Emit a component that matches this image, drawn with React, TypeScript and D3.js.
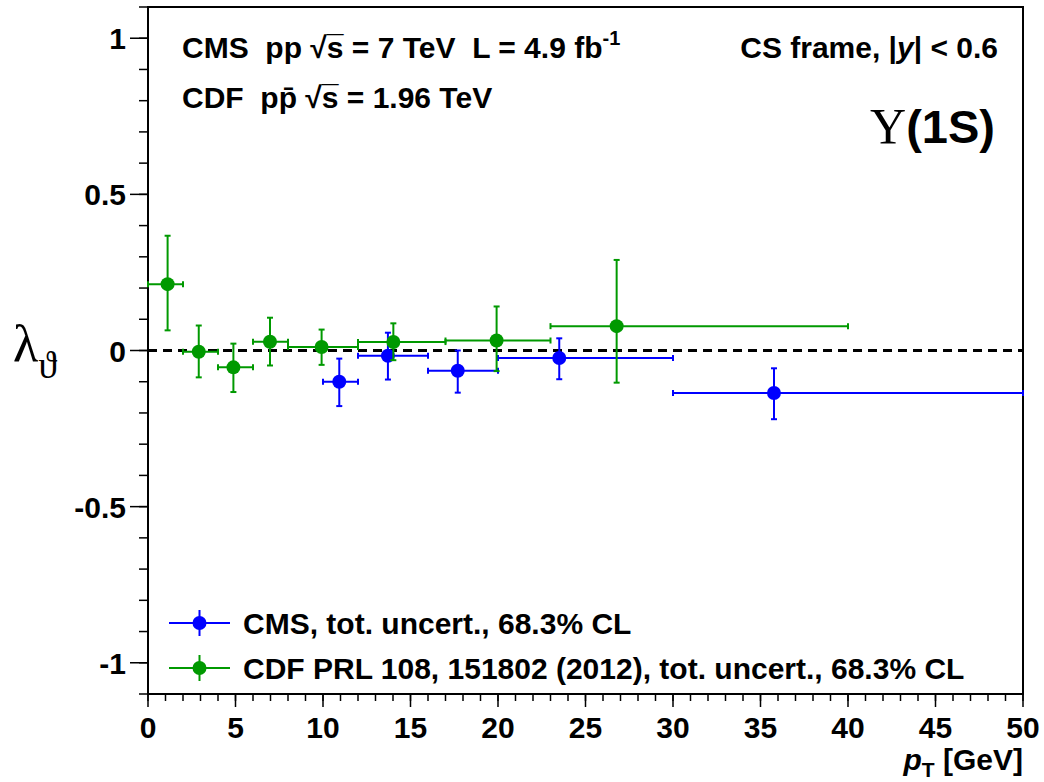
import React from 'react';
import * as d3 from 'd3';

// CMS Upsilon(1S) lambda_theta, CS frame
const cmsPt = [10.93, 13.71, 17.7, 23.5, 35.77];
const cmsPtLow = [10, 12, 16, 20, 30];
const cmsPtHigh = [12, 16, 20, 30, 50];
const cmsLambda = [-0.1, -0.017, -0.065, -0.024, -0.136];
const cmsErrUp = [0.074, 0.074, 0.065, 0.063, 0.079];
const cmsErrDown = [0.078, 0.076, 0.07, 0.068, 0.084];

// CDF PRL 108, 151802
const cdfPt = [1.12, 2.9, 4.88, 6.97, 9.92, 14.02, 19.92, 26.78];
const cdfPtLow = [0, 2, 4, 6, 8, 12, 17, 23];
const cdfPtHigh = [2, 4, 6, 8, 12, 17, 23, 40];
const cdfLambda = [0.2125, -0.004, -0.054, 0.028, 0.011, 0.027, 0.032, 0.078];
const cdfErrUp = [0.155, 0.084, 0.076, 0.077, 0.056, 0.06, 0.109, 0.212];
const cdfErrDown = [0.148, 0.082, 0.079, 0.076, 0.057, 0.058, 0.098, 0.181];

const xTicks = [0, 5, 10, 15, 20, 25, 30, 35, 40, 45, 50];
const yTicks = [-1, -0.5, 0, 0.5, 1];

const legendLabels = [
    'CMS, tot. uncert., 68.3% CL',
    'CDF PRL 108, 151802 (2012), tot. uncert., 68.3% CL',
];

const BLUE = '#0000ff';
const GREEN = '#009900';
const SANS = '"Liberation Sans", Arial, Helvetica, sans-serif';
const SERIF = '"Liberation Serif", "Times New Roman", serif';
const FS = 30;

const left = 148, right = 1023, top = 7, bottom = 694;

function Series({pt, lo, hi, val, up, down, color, x, y}) {
    const cap = 3;
    return (
        <g>
            {pt.map((p, i) => {
                const cx = x(p), cy = y(val[i]);
                const x1 = x(lo[i]), x2 = x(hi[i]);
                const y1 = y(val[i] + up[i]), y2 = y(val[i] - down[i]);
                return (
                    <g key={`pt_${i}`} stroke={color} strokeWidth={2}>
                        <line x1={x1} x2={x2} y1={cy} y2={cy} />
                        <line x1={cx} x2={cx} y1={y1} y2={y2} />
                        <line x1={x1} x2={x1} y1={cy - cap} y2={cy + cap} />
                        <line x1={x2} x2={x2} y1={cy - cap} y2={cy + cap} />
                        <line x1={cx - cap} x2={cx + cap} y1={y1} y2={y1} />
                        <line x1={cx - cap} x2={cx + cap} y1={y2} y2={y2} />
                        <circle cx={cx} cy={cy} r={7} fill={color} stroke="none" />
                    </g>
                );
            })}
        </g>
    );
}

export default function App() {
    const x = d3.scaleLinear().domain([0, 50]).range([left, right]);
    const y = d3.scaleLinear().domain([-1.1, 1.1]).range([bottom, top]);

    const xMinor = d3.range(0, 51, 1);
    const yMinor = d3.range(-11, 12, 1).map((v) => v / 10);

    const legend = [
        {label: legendLabels[0], color: BLUE, ly: 623},
        {label: legendLabels[1], color: GREEN, ly: 668},
    ];

    return (
        <svg width={1044} height={782} xmlns="http://www.w3.org/2000/svg"
            style={{position: 'absolute', left: 0, top: 0, background: '#fff'}}>
            <rect x={0} y={0} width={1044} height={782} fill="#fff" />

            {/* frame */}
            <rect x={left} y={top} width={right - left} height={bottom - top} fill="none" stroke="#000" strokeWidth={2} />

            {/* y ticks */}
            {yMinor.map((v, i) => (
                <line key={`ym_${i}`} x1={left - 9} x2={left} y1={y(v)} y2={y(v)} stroke="#000" strokeWidth={1.5} />
            ))}
            {yTicks.map((v, i) => (
                <g key={`yt_${i}`}>
                    <line x1={left - 18} x2={left} y1={y(v)} y2={y(v)} stroke="#000" strokeWidth={1.5} />
                    <text x={left - 22} y={y(v) + 11} textAnchor="end" fontFamily={SANS} fontWeight="bold" fontSize={FS}>
                        {v}
                    </text>
                </g>
            ))}

            {/* x ticks */}
            {xMinor.map((v, i) => (
                <line key={`xm_${i}`} x1={x(v)} x2={x(v)} y1={bottom} y2={bottom + 7} stroke="#000" strokeWidth={1.5} />
            ))}
            {xTicks.map((v, i) => (
                <g key={`xt_${i}`}>
                    <line x1={x(v)} x2={x(v)} y1={bottom} y2={bottom + 13} stroke="#000" strokeWidth={1.5} />
                    <text x={x(v)} y={738} textAnchor="middle" fontFamily={SANS} fontWeight="bold" fontSize={FS}>
                        {v}
                    </text>
                </g>
            ))}

            {/* axis titles */}
            <text x={right} y={770} textAnchor="end" fontFamily={SANS} fontWeight="bold" fontSize={FS}>
                <tspan fontStyle="italic">p</tspan>
                <tspan fontSize={21} dy={7}>T</tspan>
                <tspan dy={-7}> [GeV]</tspan>
            </text>
            <text x={13} y={361} fontFamily={SERIF} fontSize={52}>
                λ
                <tspan fontSize={38} dy={17}>ϑ</tspan>
            </text>

            {/* zero line */}
            <line x1={left} x2={right} y1={y(0)} y2={y(0)} stroke="#000" strokeWidth={3} strokeDasharray="9 6" />

            <Series pt={cmsPt} lo={cmsPtLow} hi={cmsPtHigh} val={cmsLambda} up={cmsErrUp} down={cmsErrDown} color={BLUE} x={x} y={y} />
            <Series pt={cdfPt} lo={cdfPtLow} hi={cdfPtHigh} val={cdfLambda} up={cdfErrUp} down={cdfErrDown} color={GREEN} x={x} y={y} />

            {/* header texts */}
            <text x={182} y={58} fontFamily={SANS} fontWeight="bold" fontSize={FS} xmlSpace="preserve">
                {'CMS  pp √s\u0305 = 7 TeV  L = 4.9 fb'}
                <tspan fontSize={20} dy={-13}>-1</tspan>
            </text>
            <text x={182} y={108} fontFamily={SANS} fontWeight="bold" fontSize={FS} xmlSpace="preserve">
                {'CDF  pp\u0304 √s\u0305 = 1.96 TeV'}
            </text>
            <text x={998} y={58} textAnchor="end" fontFamily={SANS} fontWeight="bold" fontSize={FS} xmlSpace="preserve">
                {'CS frame, |'}
                <tspan fontStyle="italic">y</tspan>
                {'| < 0.6'}
            </text>
            <text x={995} y={143} textAnchor="end" fontWeight="bold" fontSize={47}>
                <tspan fontFamily={SERIF} fontWeight="normal" fontSize={50}>Υ</tspan>
                <tspan fontFamily={SANS}>(1S)</tspan>
            </text>

            {/* legend */}
            {legend.map((d, i) => (
                <g key={`leg_${i}`}>
                    <line x1={169} x2={230} y1={d.ly} y2={d.ly} stroke={d.color} strokeWidth={2} />
                    <line x1={199.5} x2={199.5} y1={d.ly - 13} y2={d.ly + 13} stroke={d.color} strokeWidth={2} />
                    <circle cx={199.5} cy={d.ly} r={7} fill={d.color} />
                    <text x={243} y={d.ly + 11} fontFamily={SANS} fontWeight="bold" fontSize={FS}>
                        {d.label}
                    </text>
                </g>
            ))}
        </svg>
    );
}
